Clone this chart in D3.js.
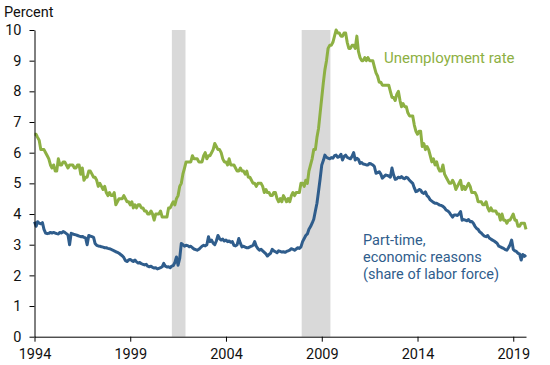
<!DOCTYPE html>
<html>
<head>
<meta charset="utf-8">
<script src="https://cdn.jsdelivr.net/npm/d3@7"></script>
<style>
    body { margin: 0; background: #fff; }
    svg { display: block; font-family: Roboto, sans-serif; }
</style>
</head>
<body>
<div id="chart"></div>
<script>
// Monthly series, Jan 1994 - Sep 2019
const startYear = 1994;

// Unemployment rate (percent)
const unemploymentRate = [
    6.6, 6.6, 6.5, 6.4, 6.1, 6.1, 6.1, 6.0, 5.9, 5.8, 5.6, 5.5,
    5.6, 5.4, 5.4, 5.8, 5.6, 5.6, 5.7, 5.7, 5.6, 5.5, 5.6, 5.6,
    5.6, 5.5, 5.5, 5.6, 5.6, 5.3, 5.5, 5.1, 5.2, 5.2, 5.4, 5.4,
    5.3, 5.2, 5.2, 5.1, 4.9, 5.0, 4.9, 4.8, 4.9, 4.7, 4.6, 4.7,
    4.6, 4.6, 4.7, 4.3, 4.4, 4.5, 4.5, 4.5, 4.6, 4.5, 4.4, 4.4,
    4.3, 4.4, 4.2, 4.3, 4.2, 4.3, 4.3, 4.2, 4.2, 4.1, 4.1, 4.0,
    4.0, 4.1, 4.0, 3.8, 4.0, 4.0, 4.0, 4.1, 3.9, 3.9, 3.9, 3.9,
    4.2, 4.2, 4.3, 4.4, 4.3, 4.5, 4.6, 4.9, 5.0, 5.3, 5.5, 5.7,
    5.7, 5.7, 5.7, 5.9, 5.8, 5.8, 5.8, 5.7, 5.7, 5.7, 5.9, 6.0,
    5.8, 5.9, 5.9, 6.0, 6.1, 6.3, 6.2, 6.1, 6.1, 6.0, 5.8, 5.7,
    5.7, 5.6, 5.8, 5.6, 5.6, 5.6, 5.5, 5.4, 5.4, 5.5, 5.4, 5.4,
    5.3, 5.4, 5.2, 5.2, 5.1, 5.0, 5.0, 4.9, 5.0, 5.0, 5.0, 4.9,
    4.7, 4.8, 4.7, 4.7, 4.6, 4.6, 4.7, 4.7, 4.5, 4.4, 4.5, 4.4,
    4.6, 4.5, 4.4, 4.5, 4.4, 4.6, 4.7, 4.6, 4.7, 4.7, 4.7, 5.0,
    5.0, 4.9, 5.1, 5.0, 5.4, 5.6, 5.8, 6.1, 6.1, 6.5, 6.8, 7.3,
    7.8, 8.3, 8.7, 9.0, 9.4, 9.5, 9.5, 9.6, 9.8, 10.0, 9.9, 9.9,
    9.8, 9.8, 9.9, 9.9, 9.6, 9.4, 9.4, 9.5, 9.5, 9.4, 9.8, 9.3,
    9.1, 9.0, 9.0, 9.1, 9.0, 9.1, 9.0, 9.0, 9.0, 8.8, 8.6, 8.5,
    8.3, 8.3, 8.2, 8.2, 8.2, 8.2, 8.2, 8.0, 7.8, 7.8, 7.7, 7.9,
    8.0, 7.7, 7.5, 7.6, 7.5, 7.5, 7.3, 7.2, 7.2, 7.2, 6.9, 6.7,
    6.6, 6.7, 6.7, 6.2, 6.3, 6.1, 6.2, 6.1, 5.9, 5.7, 5.8, 5.6,
    5.7, 5.5, 5.4, 5.4, 5.6, 5.3, 5.2, 5.1, 5.0, 5.0, 5.1, 5.0,
    4.8, 4.9, 5.0, 5.1, 4.8, 4.9, 4.8, 4.9, 5.0, 4.9, 4.7, 4.7,
    4.7, 4.6, 4.4, 4.4, 4.4, 4.3, 4.3, 4.4, 4.2, 4.1, 4.2, 4.1,
    4.1, 4.1, 4.0, 4.0, 3.8, 4.0, 3.8, 3.8, 3.7, 3.8, 3.8, 3.9,
    4.0, 3.8, 3.8, 3.6, 3.6, 3.7, 3.7, 3.7, 3.5
];

// Part-time for economic reasons, share of labor force (percent)
const partTimeShare = [
    3.75, 3.6, 3.75, 3.7, 3.68, 3.72, 3.5, 3.38, 3.36, 3.37, 3.4, 3.38,
    3.4, 3.38, 3.36, 3.35, 3.4, 3.38, 3.43, 3.4, 3.36, 3.32, 3.0, 3.37,
    3.35, 3.33, 3.32, 3.3, 3.28, 3.26, 3.27, 3.24, 3.22, 3.0, 3.3, 3.28,
    3.26, 3.24, 3.04, 2.98, 2.96, 2.95, 2.93, 2.92, 2.9, 2.9, 2.88, 2.87,
    2.85, 2.82, 2.8, 2.77, 2.75, 2.72, 2.68, 2.64, 2.58, 2.48, 2.45, 2.5,
    2.52, 2.48, 2.45, 2.5, 2.44, 2.4, 2.42, 2.38, 2.36, 2.34, 2.36, 2.3,
    2.28, 2.3, 2.26, 2.24, 2.25, 2.21, 2.23, 2.25, 2.28, 2.39, 2.3, 2.27,
    2.28, 2.25, 2.3, 2.32, 2.42, 2.6, 2.33, 2.55, 3.04, 3.0, 2.95, 2.98,
    2.97, 2.93, 2.95, 2.9, 2.86, 2.84, 2.82, 2.85, 2.9, 2.95, 2.98, 2.96,
    3.0, 3.26, 3.1, 3.15, 3.05, 3.0, 3.12, 3.3, 3.2, 3.15, 3.18, 3.12,
    3.15, 3.1, 3.12, 3.08, 3.1, 2.98, 2.96, 3.0, 3.2, 3.05, 2.93, 2.95,
    2.92, 2.9, 2.9, 2.93, 2.95, 2.98, 3.1, 2.95, 2.87, 2.82, 2.85, 2.8,
    2.75, 2.7, 2.63, 2.68, 2.72, 2.85, 2.8, 2.77, 2.74, 2.8, 2.78, 2.76,
    2.77, 2.75, 2.78, 2.8, 2.82, 2.87, 2.85, 2.82, 2.86, 2.9, 2.88, 2.93,
    3.1, 3.2, 3.3, 3.35, 3.5, 3.59, 3.7, 3.83, 4.1, 4.35, 4.75, 5.15,
    5.6, 5.75, 5.92, 5.85, 5.82, 5.8, 5.84, 5.82, 5.9, 5.92, 5.85, 5.87,
    5.95, 5.76, 5.88, 5.92, 5.85, 5.82, 5.8, 5.88, 6.0, 5.76, 5.82, 5.78,
    5.65, 5.68, 5.63, 5.62, 5.6, 5.6, 5.65, 5.63, 5.6, 5.55, 5.33, 5.35,
    5.38, 5.3, 5.17, 5.22, 5.27, 5.26, 5.24, 5.2, 5.5, 5.28, 5.13, 5.15,
    5.2, 5.18, 5.22, 5.17, 5.15, 5.2, 5.17, 5.1, 5.05, 5.0, 4.85, 4.73,
    4.75, 4.8, 4.78, 4.7, 4.67, 4.72, 4.6, 4.55, 4.46, 4.42, 4.38, 4.35,
    4.35, 4.32, 4.29, 4.28, 4.25, 4.2, 4.13, 4.1, 4.05, 3.97, 3.9, 3.97,
    3.97, 3.95, 4.0, 4.08, 3.8, 3.82, 3.8, 3.78, 3.82, 3.75, 3.76, 3.7,
    3.6, 3.53, 3.5, 3.42, 3.38, 3.32, 3.28, 3.26, 3.3, 3.22, 3.18, 3.15,
    3.12, 3.08, 3.04, 2.95, 2.93, 2.9, 2.88, 2.84, 2.82, 2.9, 3.0, 3.15,
    2.85, 2.8, 2.78, 2.72, 2.7, 2.5, 2.68, 2.62, 2.67
];

// Recessions (start / end)
const recessionStart = ['2001-03-05', '2007-12-15'];
const recessionEnd = ['2001-11-20', '2009-06-15'];

// Axis ticks
const yearTicks = [1994, 1999, 2004, 2009, 2014, 2019];
const yTicks = [0, 1, 2, 3, 4, 5, 6, 7, 8, 9, 10];

const green = '#8db043';
const blue = '#2f5d8c';

const width = 550;
const height = 365;
const plotLeft = 34.5, plotRight = 526, plotTop = 30, plotBottom = 336.7;

const monthDate = i => new Date(startYear, i, 1);

const svg = d3.select('#chart')
    .append('svg')
    .attr('width', width)
    .attr('height', height);

// Scales
const x = d3.scaleTime()
    .domain([monthDate(0), monthDate(unemploymentRate.length - 1)])
    .range([plotLeft, plotRight]);

const y = d3.scaleLinear()
    .domain([0, 10])
    .range([plotBottom, plotTop]);

// Recession shading
svg.append('g')
    .selectAll('rect')
    .data(recessionStart.map((s, i) => [new Date(s), new Date(recessionEnd[i])]))
    .join('rect')
    .attr('x', d => x(d[0]))
    .attr('width', d => x(d[1]) - x(d[0]))
    .attr('y', plotTop)
    .attr('height', plotBottom - plotTop)
    .attr('fill', '#d9d9d9');

// Lines
const line = d3.line()
    .x((d, i) => x(monthDate(i)))
    .y(d => y(d));

svg.append('path')
    .datum(partTimeShare)
    .attr('d', line)
    .attr('fill', 'none')
    .attr('stroke', blue)
    .attr('stroke-width', 3)
    .attr('stroke-linejoin', 'round');

svg.append('path')
    .datum(unemploymentRate)
    .attr('d', line)
    .attr('fill', 'none')
    .attr('stroke', green)
    .attr('stroke-width', 3)
    .attr('stroke-linejoin', 'round');

// Axes
const xAxis = svg.append('g')
    .attr('transform', `translate(0,${plotBottom})`)
    .call(d3.axisBottom(x)
        .tickValues(yearTicks.map(yr => new Date(yr, 0, 1)))
        .tickFormat(d3.timeFormat('%Y'))
        .tickSize(5)
        .tickSizeOuter(0)
        .tickPadding(7));

const yAxis = svg.append('g')
    .attr('transform', `translate(${plotLeft},0)`)
    .call(d3.axisLeft(y)
        .tickValues(yTicks)
        .tickSize(5)
        .tickSizeOuter(0)
        .tickPadding(8));

[xAxis, yAxis].forEach(ax => {
    ax.selectAll('path, line').attr('stroke', '#000');
    ax.selectAll('text')
        .attr('fill', '#111')
        .style('font-size', '14.5px')
        .style('font-family', 'Roboto, sans-serif');
});

// Axis title
svg.append('text')
    .attr('x', 4)
    .attr('y', 17)
    .attr('fill', '#111')
    .style('font-size', '14.5px')
    .text('Percent');

// Series labels
svg.append('text')
    .attr('x', 384)
    .attr('y', 62.5)
    .attr('fill', green)
    .style('font-size', '15px')
    .text('Unemployment rate');

svg.append('text')
    .attr('fill', blue)
    .style('font-size', '14.5px')
    .selectAll('tspan')
    .data(['Part-time,', 'economic reasons', '(share of labor force)'])
    .join('tspan')
    .attr('x', 363)
    .attr('y', (d, i) => 244.5 + i * 17)
    .text(d => d);
</script>
</body>
</html>
